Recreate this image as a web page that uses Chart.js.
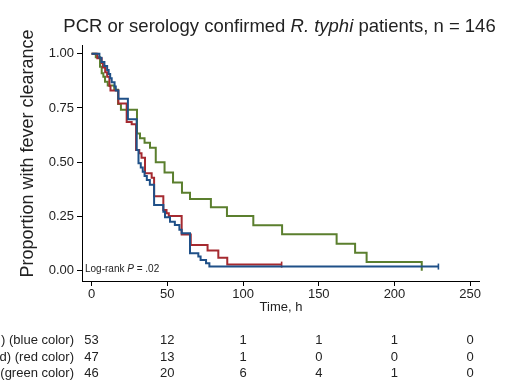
<!DOCTYPE html>
<html>
<head>
<meta charset="utf-8">
<script src="https://cdn.jsdelivr.net/npm/chart.js@4.4.1/dist/chart.umd.min.js"></script>
<style>
  html, body { margin: 0; padding: 0; background: #fff; }
  #wrap { width: 510px; height: 381px; }
</style>
</head>
<body>
<div id="wrap"><canvas id="kmChart" width="510" height="381"></canvas></div>
<script>
// Kaplan-Meier steps (time in hours, proportion still febrile)
const blueTime = [0, 5.2, 6.5, 8.5, 10.3, 11.3, 12.3, 13.3, 15.2, 16, 17.7, 24, 29.8, 31, 32.5, 33.8, 35, 36.5, 38.5, 41.3, 47.4, 48.5, 51.8, 55, 58, 59.5, 65, 70.5, 72, 75.6, 77.8, 229];
const blueSurv = [1, 0.981, 0.962, 0.943, 0.925, 0.906, 0.887, 0.868, 0.849, 0.83, 0.792, 0.698, 0.556, 0.495, 0.476, 0.456, 0.436, 0.418, 0.396, 0.303, 0.272, 0.246, 0.226, 0.21, 0.189, 0.172, 0.08, 0.065, 0.049, 0.034, 0.019, 0.019];

const redTime = [0, 3.8, 6.7, 7.5, 9, 10.3, 11.8, 12.5, 17.7, 23.2, 26.5, 29.4, 31.5, 33, 35.3, 39.7, 41.3, 47.4, 49.5, 51, 59.5, 65.5, 76.6, 83.7, 89.6, 125.5];
const redSurv = [1, 0.979, 0.957, 0.936, 0.915, 0.894, 0.851, 0.83, 0.77, 0.685, 0.675, 0.556, 0.541, 0.52, 0.449, 0.428, 0.343, 0.28, 0.265, 0.252, 0.167, 0.118, 0.093, 0.06, 0.028, 0.028];

const greenTime = [0, 2.8, 5.6, 6.7, 7.8, 8.9, 10.7, 15, 17.5, 19.4, 30, 32, 35, 38.6, 42.4, 48.2, 53.8, 59.7, 65, 78.8, 89.4, 106.8, 125.8, 161.8, 174, 181.6, 218];
const greenSurv = [1, 0.983, 0.94, 0.91, 0.894, 0.871, 0.853, 0.834, 0.768, 0.742, 0.632, 0.61, 0.59, 0.567, 0.5, 0.452, 0.406, 0.359, 0.33, 0.292, 0.252, 0.209, 0.168, 0.124, 0.083, 0.04, 0];

const xTicks = [0, 50, 100, 150, 200, 250];
const yTicks = [0, 0.25, 0.5, 0.75, 1];

const riskLabels = [") (blue color)", "d) (red color)", "(green color)"];
const blueRisk = [53, 12, 1, 1, 1, 0];
const redRisk = [47, 13, 1, 0, 0, 0];
const greenRisk = [46, 20, 6, 4, 1, 0];

const FONT = '"Liberation Sans", Arial, Helvetica, sans-serif';
const BLUE = "#1f5088";
const RED = "#a52a30";
const GREEN = "#5b7f2e";

function makeSet(times, surv, color, censoredEnd) {
  const pts = times.map((t, i) => ({ x: t, y: surv[i] }));
  const radii = pts.map((p, i) => (censoredEnd && i === pts.length - 1 ? 3 : 0));
  return {
    data: pts,
    borderColor: color,
    backgroundColor: color,
    borderWidth: 2,
    stepped: "before",
    fill: false,
    pointStyle: "line",
    rotation: 90,
    pointRadius: radii,
    pointBorderWidth: 1.6,
    pointBorderColor: color,
    clip: false
  };
}

// draw a line of text made of normal / italic pieces
function drawRuns(c, runs, size, x, y, align) {
  let widths = runs.map(r => {
    c.font = r[1] + " " + size + "px " + FONT;
    return c.measureText(r[0]).width;
  });
  let total = widths.reduce((a, b) => a + b, 0);
  let start = align === "center" ? x - total / 2 : x;
  c.textAlign = "left";
  runs.forEach((r, i) => {
    c.font = r[1] + " " + size + "px " + FONT;
    c.fillText(r[0], start, y);
    start += widths[i];
  });
}

const annotate = {
  id: "annotate",
  afterDraw(chart) {
    const c = chart.ctx;
    const xs = chart.scales.x;
    c.save();
    c.fillStyle = "#222";
    c.textBaseline = "alphabetic";

    drawRuns(c, [["PCR or serology confirmed ", "normal"], ["R. typhi", "italic"], [" patients, n = 146", "normal"]], 18.5, 279.5, 31.5, "center");

    drawRuns(c, [["Log-rank ", "normal"], ["P", "italic"], [" = .02", "normal"]], 10, 85, 272, "left");

    c.font = "13px " + FONT;
    c.textAlign = "center";
    c.fillText("Time, h", 281, 311);

    c.save();
    c.translate(33, 153.5);
    c.rotate(-Math.PI / 2);
    c.font = "18px " + FONT;
    c.textAlign = "center";
    c.fillText("Proportion with fever clearance", 0, 0);
    c.restore();

    const rows = [blueRisk, redRisk, greenRisk];
    const baselines = [344, 361, 377];
    c.font = "13px " + FONT;
    rows.forEach((row, r) => {
      c.textAlign = "right";
      c.fillText(riskLabels[r], 74, baselines[r]);
      c.textAlign = "center";
      row.forEach((n, i) => {
        c.fillText(String(n), xs.getPixelForValue(xTicks[i]), baselines[r]);
      });
    });
    c.restore();
  }
};

const ctx = document.getElementById("kmChart");

new Chart(ctx, {
  type: "line",
  data: {
    datasets: [
      makeSet(blueTime, blueSurv, BLUE, true),
      makeSet(redTime, redSurv, RED, true),
      makeSet(greenTime, greenSurv, GREEN, false)
    ]
  },
  options: {
    responsive: false,
    animation: false,
    events: [],
    layout: { padding: { top: 45, right: 31, left: 0, bottom: 0 } },
    plugins: {
      legend: { display: false },
      tooltip: { enabled: false },
      title: { display: false }
    },
    scales: {
      x: {
        type: "linear",
        min: -6.3,
        max: 255.8,
        afterBuildTicks: s => { s.ticks = xTicks.map(v => ({ value: v })); },
        afterFit: s => { s.height = 100; },
        grid: { display: true, drawOnChartArea: false, drawTicks: true, tickLength: 5, color: "#000", lineWidth: 1 },
        border: { display: true, color: "#000", width: 1 },
        ticks: { color: "#222", font: { family: FONT, size: 13 }, padding: 1, maxRotation: 0 }
      },
      y: {
        type: "linear",
        min: -0.0475,
        max: 1.04,
        afterBuildTicks: s => { s.ticks = yTicks.map(v => ({ value: v })); },
        afterFit: s => { s.width = 82; },
        grid: { display: true, drawOnChartArea: false, drawTicks: true, tickLength: 5, color: "#000", lineWidth: 1 },
        border: { display: true, color: "#000", width: 1 },
        ticks: { color: "#222", font: { family: FONT, size: 13 }, padding: 3, callback: v => v.toFixed(2) }
      }
    }
  },
  plugins: [annotate]
});
</script>
</body>
</html>
